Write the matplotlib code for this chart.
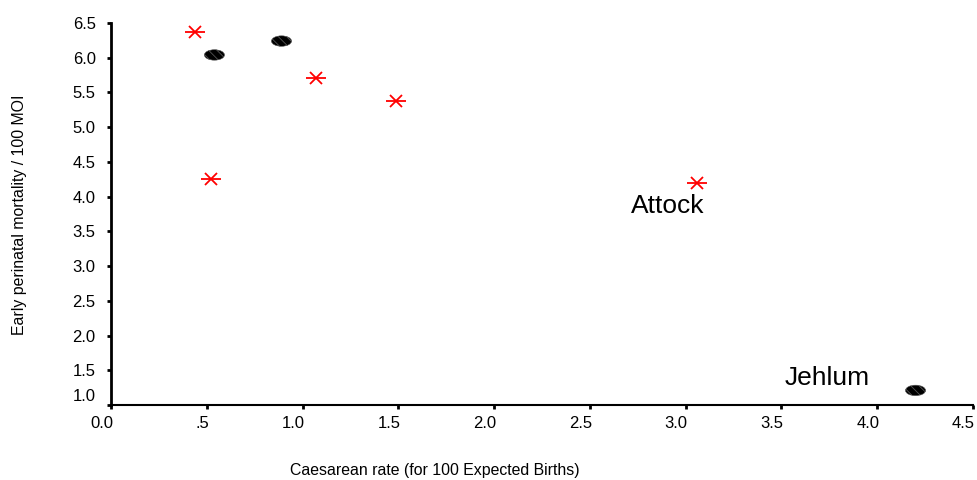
import numpy as np
import matplotlib
matplotlib.use("Agg")
import matplotlib.pyplot as plt
from matplotlib.path import Path
from matplotlib.transforms import Affine2D, ScaledTranslation

plt.rcParams['font.family'] = ['Liberation Sans', 'DejaVu Sans']
plt.rcParams['hatch.linewidth'] = 0.6

# districts: red crosses and black ellipses
crossX = [0.44, 1.07, 1.49, 0.52, 3.06]
crossY = [6.37, 5.71, 5.38, 4.26, 4.20]
dotX = [0.54, 0.89, 4.20]
dotY = [6.04, 6.24, 1.21]
labelNames = ["Attock", "Jehlum"]
labelX = [3.06, 4.20]
labelY = [4.20, 1.21]

xTicks = [0.0, 0.5, 1.0, 1.5, 2.0, 2.5, 3.0, 3.5, 4.0, 4.5]
xTickLabels = ["0.0", ".5", "1.0", "1.5", "2.0", "2.5", "3.0", "3.5", "4.0", "4.5"]
yTicks = [1.0, 1.5, 2.0, 2.5, 3.0, 3.5, 4.0, 4.5, 5.0, 5.5, 6.0, 6.5]

fig = plt.figure(figsize=(9.77, 4.80), dpi=100)
ax = fig.add_axes([111/977, 1-405/480, (973-111)/977, (405-23)/480])

# ellipse marker
circ = Path.unit_circle()
ell = Path(Affine2D().scale(1.0, 0.52).transform(circ.vertices), circ.codes)

ax.plot(crossX, crossY, linestyle="none", marker="x", markersize=8.5, mew=1.3, color="red", zorder=3)
ax.plot(crossX, crossY, linestyle="none", marker="_", markersize=15, mew=1.3, color="red", zorder=3)
ax.scatter(dotX, dotY, marker=ell, s=14.5**2, facecolor="black", edgecolor="#555555",
           linewidths=0.4, hatch="\\\\\\\\", zorder=3)

offsets = [(-29, -23), (-88, 12)]
for name, x, y, off in zip(labelNames, labelX, labelY, offsets):
    ax.annotate(name, xy=(x, y), xytext=off, textcoords="offset pixels",
                ha="center", va="center", fontsize=19)

ax.set_xlim(0, 4.5)
ax.set_ylim(1.0, 6.5)
ax.set_xticks(xTicks)
ax.set_xticklabels(xTickLabels, ha="right", fontsize=12)
ax.set_yticks(yTicks)
ax.set_yticklabels([f"{v:.1f}" for v in yTicks], fontsize=12)
ax.tick_params(axis="both", direction="out", length=3, width=2, color="black")
ax.tick_params(axis="x", pad=5)
ax.tick_params(axis="y", pad=8)
# nudge the lowest y label upwards like the original
lowLabel = ax.get_yticklabels()[0]
lowLabel.set_transform(lowLabel.get_transform() + ScaledTranslation(0, 10/100, fig.dpi_scale_trans))
# nudge x labels so their right edge sits on the tick
for lab in ax.get_xticklabels():
    lab.set_transform(lab.get_transform() + ScaledTranslation(2/100, 0, fig.dpi_scale_trans))

for side in ["top", "right"]:
    ax.spines[side].set_visible(False)
ax.spines["left"].set_linewidth(2)
ax.spines["bottom"].set_linewidth(1.5)

fig.text(20/977, 1-215/480, "Early perinatal mortality / 100 MOI", rotation=90,
         ha="center", va="center", fontsize=11.4)
fig.text(435/977, 1-470/480, "Caesarean rate (for 100 Expected Births)",
         ha="center", va="center", fontsize=11.4)

plt.savefig("out.png", dpi=100)
